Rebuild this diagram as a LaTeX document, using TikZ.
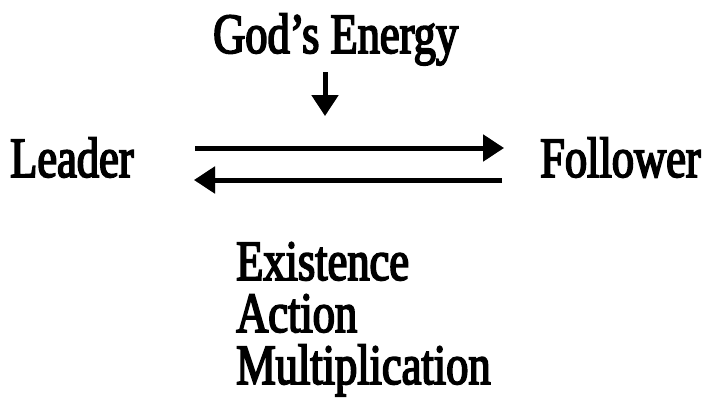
\documentclass[tikz,border=0pt]{standalone}
\usepackage{fontspec}
\setmainfont{Liberation Serif}[FakeStretch=0.78,FakeBold=3]
\usetikzlibrary{arrows.meta}
\tikzset{
  lbl/.style={anchor=base west, inner sep=0pt, font=\fontsize{57}{57}\selectfont},
  arr/.style={line width=5pt, -{Triangle[width=26pt,length=21pt]}},
  arrshadow/.style={arr, draw=black!25}
}
\begin{document}
\begin{tikzpicture}[x=1pt,y=-1pt]
\useasboundingbox (0,0) rectangle (705,399);
% coordinates
\coordinate (dtop) at (325,72);
\coordinate (dbot) at (325,116);
\coordinate (r1) at (195,148);
\coordinate (r2) at (504,148);
\coordinate (l1) at (502,180);
\coordinate (l2) at (194,180);
% arrow shadows
\begin{scope}[shift={(2,2)}]
\draw[arrshadow] (dtop) -- (dbot);
\draw[arrshadow] (r1) -- (r2);
\draw[arrshadow] (l1) -- (l2);
\end{scope}
% main
\node[lbl] (god) at (213,53) {God’s Energy};
\node[lbl] (leader) at (10,177) {Leader};
\node[lbl] (follower) at (540,177) {Follower};
\node[lbl] (exist) at (236,280) {Existence};
\node[lbl] (action) at (236,332) {Action};
\node[lbl] (mult) at (236,384) {Multiplication};
\draw[arr] (dtop) -- (dbot);
\draw[arr] (r1) -- (r2);
\draw[arr] (l1) -- (l2);
\end{tikzpicture}
\end{document}
